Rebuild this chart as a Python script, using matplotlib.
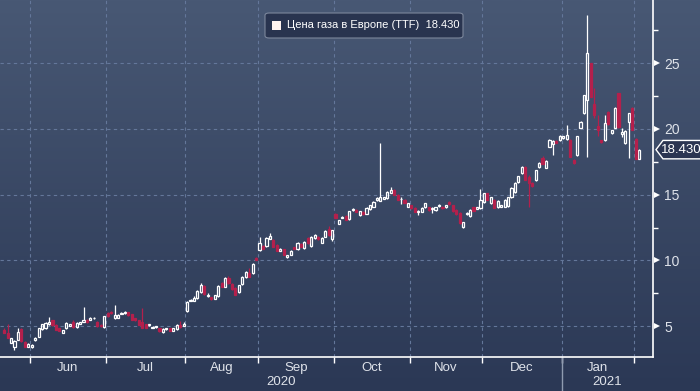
import numpy as np
import pandas as pd
import matplotlib
matplotlib.use("Agg")
import matplotlib.pyplot as plt
from matplotlib.patches import Polygon, FancyBboxPatch, Rectangle
from matplotlib.colors import LinearSegmentedColormap

# --- Data: daily TTF candles (EUR/MWh), 20 May 2020 - 2 Feb 2021 ---
dates = pd.bdate_range("2020-05-20", "2021-02-02")

open_ = [
    # May
    4.75, 4.5, 3.75, 3.4, 3.95, 4.8, 3.8, 3.45,
    # Jun
    3.45, 3.95, 4.2, 4.8, 4.85, 5.15, 5.45, 5.1, 4.85, 4.5, 4.85, 5.05, 5.3, 4.95, 5.2,
    5.35, 5.5, 5.5, 5.6, 5.35, 5.1, 4.95,
    # Jul
    6.0, 6.05, 5.6, 5.65, 5.95, 6.0, 6.05, 5.9, 5.6, 5.45, 5.3, 5.15, 5.1, 4.9, 4.95,
    4.85, 4.55, 4.8, 4.85, 4.65, 4.8, 5.1, 5.05,
    # Aug
    6.15, 6.95, 6.95, 7.15, 7.6, 8.05, 7.3, 7.2, 7.1, 7.3, 8.3, 8.0, 8.7, 8.2, 7.9,
    7.6, 8.2, 8.75, 9.05, 9.05, 10.2,
    # Sep
    10.8, 11.1, 11.1, 11.65, 11.55, 11.2, 10.75, 10.85, 10.3, 10.45, 11.0, 10.85, 11.25,
    10.95, 11.7, 11.1, 11.7, 11.8, 11.35, 11.8, 12.4, 11.65,
    # Oct
    13.5, 12.8, 13.25, 13.4, 13.15, 13.85, 13.85, 13.45, 13.7, 13.55, 13.9, 14.1, 14.6,
    14.55, 14.7, 14.75, 15.15, 15.35, 15.0, 14.65, 14.6, 14.1,
    # Nov
    14.2, 14.0, 13.7, 13.7, 14.05, 14.05, 13.9, 13.85, 14.15, 14.1, 14.05, 14.45, 14.2,
    13.85, 13.6, 12.55, 13.5, 13.35, 14.05, 13.95, 14.0,
    # Dec
    14.45, 15.1, 14.35, 14.6, 14.05, 14.1, 14.1, 14.15, 14.8, 15.2, 15.95, 16.65, 17.1,
    16.35, 15.9, 16.1, 17.1, 17.8, 17.05, 18.65, 18.85, 19.1, 19.15,
    # Jan
    19.3, 19.25, 19.2, 17.65, 18.0, 20.1, 21.2, 22.2, 25.0, 21.9, 20.2, 19.15, 19.15,
    21.3, 19.7, 20.1, 22.7, 19.65, 18.95, 20.5, 21.6,
    # Feb
    19.25, 17.75,
]
high = [
    4.85, 5.2, 4.1, 3.95, 4.85, 4.9, 3.85, 3.7,
    3.65, 4.15, 4.9, 5.2, 5.3, 5.7, 5.5, 5.15, 4.9, 4.75, 5.3, 5.2, 5.45, 5.3, 5.35,
    6.5, 5.55, 5.7, 5.7, 5.4, 5.15, 5.8,
    6.1, 6.15, 6.6, 5.95, 6.1, 6.15, 6.1, 5.95, 5.65, 5.5, 6.4, 5.2, 5.2, 5.0, 5.05,
    4.9, 4.85, 4.9, 4.9, 4.9, 5.15, 5.4, 5.35,
    6.9, 7.1, 7.3, 7.75, 8.3, 8.1, 7.5, 7.25, 7.4, 8.1, 8.35, 8.75, 8.8, 8.25, 7.95,
    8.15, 8.8, 9.2, 9.4, 9.8, 10.3,
    11.75, 11.2, 11.8, 12.1, 11.6, 11.25, 10.95, 10.9, 10.45, 10.8, 11.05, 11.4, 11.3,
    11.45, 11.75, 11.85, 12.0, 11.85, 11.75, 12.3, 12.6, 12.35,
    13.6, 13.1, 13.4, 13.45, 13.8, 14.0, 13.9, 13.8, 13.75, 14.05, 14.25, 14.5, 14.8,
    18.95, 14.85, 15.25, 15.6, 15.4, 15.05, 14.8, 14.65, 14.4,
    14.25, 14.05, 13.85, 14.05, 14.4, 14.1, 14.05, 14.1, 14.3, 14.15, 14.25, 14.5, 14.25,
    13.9, 13.65, 12.95, 13.65, 13.9, 14.1, 14.1, 15.45,
    15.15, 15.15, 14.85, 14.65, 14.6, 14.25, 14.65, 14.85, 15.6, 15.95, 16.45, 17.15, 17.15,
    16.5, 15.95, 16.9, 17.5, 17.95, 17.65, 19.25, 19.15, 19.2, 19.55,
    19.5, 20.3, 19.25, 17.7, 19.5, 20.6, 22.6, 28.7, 25.05, 23.1, 21.05, 19.2, 21.05,
    21.4, 19.95, 21.65, 22.75, 20.1, 19.9, 21.25, 21.65,
    19.3, 18.45,
]
low = [
    4.45, 4.1, 3.7, 3.2, 3.95, 3.8, 3.45, 3.4,
    3.35, 3.9, 4.15, 4.75, 4.8, 5.1, 5.05, 4.7, 4.6, 4.45, 4.8, 5.0, 4.9, 4.9, 5.15,
    5.3, 5.25, 5.45, 5.55, 4.95, 4.95, 4.9,
    5.7, 5.95, 5.55, 5.6, 5.9, 5.95, 5.8, 5.45, 5.4, 5.1, 4.85, 4.85, 5.05, 4.85, 4.9,
    4.55, 4.5, 4.75, 4.6, 4.6, 4.75, 4.9, 5.0,
    6.1, 6.9, 6.9, 7.1, 7.55, 7.4, 7.25, 7.0, 7.05, 7.25, 8.0, 7.95, 8.2, 7.75, 7.35,
    7.55, 8.15, 8.7, 8.75, 9.0, 10.0,
    10.75, 10.85, 11.05, 11.6, 11.0, 10.7, 10.7, 10.4, 10.2, 10.4, 10.85, 10.8, 11.0,
    10.9, 11.25, 11.05, 11.65, 11.55, 11.3, 11.75, 11.9, 11.5,
    13.2, 12.75, 13.2, 13.05, 13.1, 13.8, 13.65, 13.4, 13.45, 13.5, 13.85, 14.05, 14.55,
    14.5, 14.65, 14.7, 15.1, 14.95, 14.6, 14.3, 14.35, 14.05,
    13.95, 13.65, 13.45, 13.65, 14.0, 13.8, 13.6, 13.8, 14.1, 13.95, 14.0, 14.25, 13.7,
    13.45, 12.8, 12.5, 13.45, 13.3, 13.75, 13.9, 13.95,
    14.4, 14.6, 14.3, 14.0, 14.0, 14.05, 14.05, 14.1, 14.75, 15.15, 15.9, 16.6, 16.1,
    14.05, 15.6, 16.05, 17.05, 17.35, 17.0, 18.6, 18.0, 18.95, 19.1,
    19.25, 19.2, 17.9, 17.35, 17.95, 20.05, 21.15, 17.9, 22.4, 20.8, 19.5, 18.95, 19.1,
    20.3, 19.6, 20.05, 20.1, 19.4, 18.85, 17.8, 19.9,
    17.7, 17.7,
]
close = [
    4.5, 4.1, 4.1, 3.9, 4.55, 3.85, 3.45, 3.65,
    3.6, 4.1, 4.85, 5.15, 5.25, 5.35, 5.1, 4.75, 4.65, 4.7, 5.25, 5.15, 4.95, 5.25, 5.3,
    5.5, 5.3, 5.65, 5.65, 5.0, 5.05, 5.75,
    5.75, 6.0, 5.85, 5.85, 6.0, 6.1, 5.85, 5.5, 5.45, 5.1, 4.9, 4.9, 5.15, 4.95, 5.0,
    4.6, 4.8, 4.85, 4.65, 4.85, 5.1, 4.95, 5.2,
    6.85, 7.0, 7.15, 7.7, 8.1, 7.45, 7.4, 7.05, 7.35, 8.05, 8.0, 8.7, 8.25, 7.8, 7.4,
    8.1, 8.75, 9.1, 8.75, 9.75, 10.0,
    11.3, 10.9, 11.7, 11.85, 11.05, 10.75, 10.85, 10.45, 10.4, 10.75, 10.9, 11.3, 11.05,
    11.4, 11.3, 11.8, 11.95, 11.6, 11.7, 12.25, 11.95, 12.3,
    13.25, 13.1, 13.3, 13.1, 13.75, 13.95, 13.7, 13.75, 13.5, 14.0, 14.2, 14.45, 14.75,
    14.85, 14.8, 15.2, 15.35, 15.0, 14.6, 14.7, 14.4, 14.35,
    14.0, 13.7, 13.8, 14.0, 14.35, 13.85, 14.0, 14.05, 14.25, 14.0, 14.2, 14.3, 13.75,
    13.5, 12.85, 12.9, 13.6, 13.85, 13.8, 14.05, 14.6,
    15.1, 14.6, 14.8, 14.0, 14.55, 14.2, 14.6, 14.8, 15.55, 15.9, 16.4, 17.1, 16.15,
    15.9, 15.65, 16.85, 17.45, 17.35, 17.6, 19.2, 19.05, 18.95, 19.5,
    19.45, 19.55, 17.9, 17.4, 19.45, 20.55, 22.55, 25.8, 22.45, 21.05, 19.95, 19.0, 20.45,
    20.35, 19.9, 21.6, 20.15, 19.75, 19.85, 21.2, 19.95,
    17.75, 18.43,
]

month_labels = ["Jun", "Jul", "Aug", "Sep", "Oct", "Nov", "Dec", "Jan"]
y_ticks = [5, 10, 15, 20, 25]
series_name = "Цена газа в Европе (TTF)"
last_value = close[-1]

# --- Colours ---
UP = "#ffffff"
DOWN = "#b3204c"
GRID = "#64779a"
TXT = "#dfe3ea"

o = np.array(open_)
h = np.array(high)
l = np.array(low)
c = np.array(close)
x = np.arange(len(dates))
up = c >= o

fig = plt.figure(figsize=(7, 3.91), dpi=100)

# gradient background over the whole figure
bg = fig.add_axes([0, 0, 1, 1], zorder=-10)
grad = np.linspace(0, 1, 256).reshape(-1, 1)
cmap = LinearSegmentedColormap.from_list("bb", ["#485874", "#2b3855"])
bg.imshow(grad, aspect="auto", cmap=cmap, extent=[0, 1, 0, 1])
bg.axis("off")

ax = fig.add_axes([0, 34 / 391, 653 / 700, 357 / 391])
ax.set_facecolor("none")
ax.set_xlim(-1.2, 188)
ax.set_ylim(2.66, 29.81)

# month boundaries
month_start = [i for i in range(1, len(dates)) if dates[i].month != dates[i - 1].month]
bounds = [i - 0.5 for i in month_start]
for b in bounds:
    ax.axvline(b, color=GRID, lw=0.8, ls=(0, (3, 3)), zorder=0)
for v in y_ticks:
    ax.axhline(v, color=GRID, lw=0.8, ls=(0, (3, 3)), zorder=0)

# candles
w = 0.62
body_lo = np.minimum(o, c)
body_hi = np.maximum(o, c)
for col, mask in [(UP, up), (DOWN, ~up)]:
    ax.vlines(x[mask], body_hi[mask], h[mask], color=col, lw=0.9, zorder=3)
    ax.vlines(x[mask], l[mask], body_lo[mask], color=col, lw=0.9, zorder=3)
ax.bar(x[up], (body_hi - body_lo)[up], bottom=body_lo[up], width=w,
       facecolor="none", edgecolor=UP, linewidth=0.9, zorder=4)
ax.bar(x[~up], (body_hi - body_lo)[~up], bottom=body_lo[~up], width=w,
       facecolor=DOWN, edgecolor=DOWN, linewidth=0.9, zorder=4)

# spines
for s in ["top", "left"]:
    ax.spines[s].set_visible(False)
ax.spines["bottom"].set_color("white")
ax.spines["right"].set_color("white")
ax.spines["bottom"].set_linewidth(1.2)
ax.spines["right"].set_linewidth(1.2)

# x axis: ticks at month boundaries, labels at month centres
ax.set_xticks(bounds)
ax.set_xticklabels([])
ax.tick_params(axis="x", length=4, color="white", width=1)
xt = ax.get_xaxis_transform()
for i, lab in enumerate(month_labels):
    a = bounds[i]
    b = bounds[i + 1] if i + 1 < len(bounds) else a + 20
    ax.text((a + b) / 2, -0.03, lab, transform=xt, ha="center", va="center",
            fontsize=9.5, color=TXT, family="Liberation Sans")

# year labels
jan_bound = bounds[month_labels.index("Jan")]
ax.text((-1.2 + jan_bound) / 2, -0.07, "2020", transform=xt, ha="center",
        va="center", fontsize=9.5, color=TXT, family="Liberation Sans")
ax.text((jan_bound + 188) / 2, -0.07, "2021", transform=xt, ha="center",
        va="center", fontsize=9.5, color=TXT, family="Liberation Sans")
ax.plot([jan_bound, jan_bound], [0, -0.11], transform=xt,
        color="#8f9bb0", lw=1, clip_on=False)

# y axis on the right with triangle markers
ax.yaxis.tick_right()
ax.set_yticks(y_ticks)
ax.set_yticks([2.5 + v for v in y_ticks], minor=True)
ax.tick_params(axis="y", which="major", length=0, pad=8, labelsize=10, labelcolor=TXT)
ax.tick_params(axis="y", which="minor", length=3.5, color="white", width=1)
for lab in ax.get_yticklabels():
    lab.set_family("Liberation Sans")
for v in y_ticks:
    ax.plot([1.006], [v], marker=">", ms=5, color="white", mew=0,
            transform=ax.get_yaxis_transform(), clip_on=False)

# last price tag
yt = ax.get_yaxis_transform()
px = 1 / 653
tag = Polygon([(1 + 3 * px, last_value), (1 + 10 * px, last_value + 0.7),
               (1 + 50 * px, last_value + 0.7), (1 + 50 * px, last_value - 0.7),
               (1 + 10 * px, last_value - 0.7)],
              closed=True, transform=yt, facecolor="#2b3552", edgecolor="white",
              lw=1, clip_on=False, zorder=6)
ax.add_patch(tag)
ax.text(1 + 28 * px, last_value, f"{last_value:.3f}", transform=yt, ha="center",
        va="center", fontsize=9.5, color="white", family="Liberation Sans",
        clip_on=False, zorder=7)

# legend box
fig.patches.append(FancyBboxPatch((265 / 700, 1 - 38 / 391), 198 / 700, 25 / 391,
                                  boxstyle="round,pad=0,rounding_size=0.006",
                                  transform=fig.transFigure, facecolor="#29344f",
                                  edgecolor="#7c879c", lw=0.8))
fig.patches.append(Rectangle((272 / 700, 1 - 30 / 391), 9 / 700, 9 / 391,
                             transform=fig.transFigure, facecolor="#fff4f0",
                             edgecolor="none"))
fig.text(287 / 700, 1 - 25.5 / 391, f"{series_name}  {last_value:.3f}",
         ha="left", va="center", fontsize=8, color="white", family="Liberation Sans")

fig.savefig("out.png", dpi=100)
